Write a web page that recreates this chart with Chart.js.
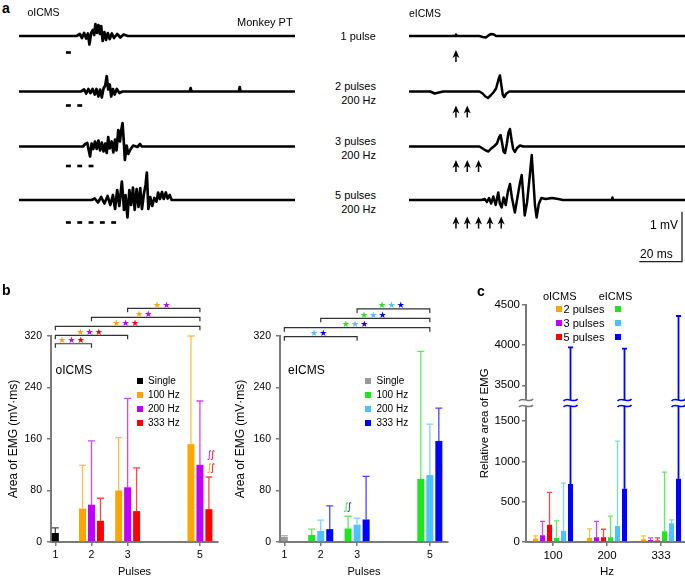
<!DOCTYPE html>
<html>
<head>
<meta charset="utf-8">
<script src="https://cdn.jsdelivr.net/npm/chart.js@4.4.1/dist/chart.umd.min.js"></script>
<style>
  html, body { margin: 0; padding: 0; background: #fff; }
  body { width: 685px; height: 576px; overflow: hidden; position: relative;
         font-family: "Liberation Sans", Arial, sans-serif; color: #000; }
  canvas { position: absolute; }
  .t { position: absolute; white-space: nowrap; line-height: 1; }
  .sq { position: absolute; width: 6px; height: 6px; }
</style>
</head>
<body>
<script>
/* ---------- panel a : EMG traces (t in ms from first pulse, mV) ---------- */
var pulseCounts = [1, 2, 3, 5];
var pulseTimes = [0, 5.3, 10.6, 15.9, 21.2];

var oTrace1 = [[-22,0],[5,0],[6.5,0.04],[7.5,-0.04],[8.5,0.06],[9.5,-0.05],[10.3,0.05],[11,-0.17],[11.8,0.06],[12.6,0.12],[13.2,0.02],[13.8,0.24],[14.5,0.06],[15.2,0.22],[15.9,0.04],[16.5,0.2],[17.2,-0.1],[18,0.08],[18.8,-0.08],[19.6,0.06],[20.5,-0.06],[21.5,0.05],[22.5,-0.04],[24,0.04],[25.5,-0.03],[27,0.03],[29,0],[107.3,0]];
var oTrace2 = [[-22,0],[7,0],[8.5,0.04],[9.5,-0.04],[10.5,0.05],[11.5,-0.03],[12.5,0.05],[13.5,-0.06],[14.3,0.05],[15.2,-0.1],[16,0.04],[16.8,-0.12],[17.6,0.06],[18.4,0.12],[19.1,0.31],[19.8,0.04],[20.5,0.14],[21.2,-0.1],[22,0.05],[22.8,-0.06],[23.8,0.05],[25,-0.03],[26.5,0],[58,0],[58.4,0.07],[58.8,0],[81,0],[81.4,0.09],[81.8,0],[107.3,0]];
var oTrace3 = [[-22,0],[8,0],[9,0.05],[10,0.07],[10.6,-0.06],[11.3,-0.2],[12,0.06],[12.8,-0.05],[13.6,0.1],[14.4,-0.05],[15.2,0.12],[16,-0.08],[16.8,0.08],[17.6,-0.1],[18.4,0.06],[19.1,-0.13],[19.8,0.19],[20.5,-0.04],[21.4,0.1],[22.2,-0.12],[23,0.14],[23.7,-0.08],[24.5,0.33],[25.3,0.1],[25.8,0.3],[26.5,0.47],[27.1,0.1],[27.6,-0.27],[28.4,0.02],[29.2,-0.15],[30.2,-0.06],[31.5,0.02],[33.5,-0.01],[34.7,0.05],[35.5,0],[107.3,0]];
var oTrace4 = [[-22,0],[12,0],[13.5,0.03],[15,-0.05],[16.5,0.06],[18,-0.07],[19.5,0.08],[20.8,-0.1],[22,0.1],[23,-0.18],[24,0.2],[25,-0.12],[26.2,0.37],[27.2,-0.2],[27.9,0.1],[28.8,-0.35],[29.7,0.2],[30.5,-0.1],[31.4,0.25],[32.2,-0.2],[33.1,0.22],[34,-0.14],[34.8,0.24],[35.6,-0.18],[36.5,0.12],[37.3,0.3],[37.9,0.55],[38.6,-0.18],[39.5,0.06],[40.4,-0.12],[41.4,0.04],[42.4,-0.03],[43.2,0.15],[44,0.02],[45,0.16],[45.8,0.02],[46.8,0.15],[47.6,0.03],[48.6,0.1],[49.5,0],[107.3,0]];

var eTrace1 = [[-22,0],[-0.3,0],[0,0.03],[0.3,0],[11,0],[12.5,-0.02],[14,-0.03],[15.5,0.02],[16.5,0.04],[17.8,0.03],[18.8,0],[107.3,0]];
var eTrace2 = [[-22,0],[-12,0],[-10,-0.04],[-8,-0.02],[-6,0],[11,0],[12.5,-0.04],[13.8,-0.1],[15,-0.13],[16.2,-0.08],[17.5,-0.02],[18.8,0.06],[19.8,0.22],[20.6,0.32],[21.3,0.12],[21.9,-0.06],[22.6,-0.11],[23.6,-0.04],[25,0],[107.3,0]];
var eTrace3 = [[-22,0],[11,0],[12.5,-0.04],[14,-0.08],[15.2,-0.1],[16.5,-0.04],[18,0.01],[19.2,0.06],[20.2,0.18],[20.9,0.23],[21.7,0.05],[22.3,-0.1],[23,-0.13],[23.8,0.05],[24.6,0.28],[25.3,0.35],[26.1,0.12],[26.8,-0.05],[27.6,-0.11],[28.6,-0.03],[30,0.02],[31.5,0],[107.3,0]];
var eTrace4 = [[-22,0],[12,0],[13.5,0.02],[14.5,-0.04],[15.5,0.04],[16.5,-0.07],[17.5,0.07],[18.6,-0.1],[19.8,0.15],[20.6,-0.08],[21.4,-0.15],[22.3,0.05],[23.3,-0.1],[24.4,0.18],[25.3,0.32],[26.2,0.05],[27.6,-0.25],[28.7,0.02],[29.8,0.3],[30.8,0.5],[31.5,0.12],[32.2,-0.31],[33.3,-0.05],[34.5,0.45],[35.5,0.9],[36.4,0.3],[37,-0.1],[37.8,-0.35],[38.8,-0.08],[40,0.04],[42,0.02],[45,0.04],[48,0.02],[50,0],[73,0],[73.3,0.05],[73.6,0],[107.3,0]];

/* ---------- panel b : area of EMG (mV·ms) ---------- */
var pulses = [1, 2, 3, 5];
var bSeries = ["Single", "100 Hz", "200 Hz", "333 Hz"];

var oSingle = [14, null, null, null];
var o100 = [null, 52, 80, 152];
var o200 = [null, 58, 85, 120];
var o333 = [null, 33, 48, 51];
var oSingleTop = [22, null, null, null];
var o100Top = [null, 119, 162, 320];
var o200Top = [null, 157, 223, 219];
var o333Top = [null, 68, 115, 101];

var eSingle = [8, null, null, null];
var e100 = [null, 11, 21, 98];
var e200 = [null, 17, 27, 104];
var e333 = [null, 20, 35, 157];
var eSingleTop = [10, null, null, null];
var e100Top = [null, 20, 40, 296];
var e200Top = [null, 34, 37, 183];
var e333Top = [null, 56, 102, 208];

// significance: [from pulses, to pulses, bracket level, series that are significant]
var oSig = [[1, 2, 308, [1, 2, 3]], [1, 3, 321, [1, 2, 3]], [1, 5, 335, [1, 2, 3]], [2, 5, 349, [1, 2]], [3, 5, 363, [1, 2]]];
var eSig = [[1, 3, 319, [2, 3]], [1, 5, 333, [1, 2, 3]], [2, 5, 347.5, [1, 2, 3]], [3, 5, 362, [1, 2, 3]]];
// frequency-difference marks: [x, y, series pair]
var oMarks = [[5.26, 134, [2, 3]], [5.26, 115, [1, 3]]];
var eMarks = [[2.7, 53, [1, 3]]];

/* ---------- panel c : relative area of EMG ---------- */
var hz = ["100", "200", "333"];
var cSeries = ["2 pulses", "3 pulses", "5 pulses"];
var cO2 = [42, 50, 33],   cO2Top = [75, 162, 75];
var cO3 = [84, 58, 25],   cO3Top = [255, 255, 50];
var cO5 = [215, 58, 20],  cO5Top = [615, 158, 50];
var cE2 = [50, 58, 133],  cE2Top = [263, 322, 866];
var cE3 = [136, 200, 234], cE3Top = [731, 1253, 275];
var cE5 = [721, 660, 785], cE5Top = [3970, 3955, 4360];
var cTicks = [0, 500, 1000, 1500, 3500, 4000, 4500];

/* ---------- colours ---------- */
var oColors = ["#000000", "#ffa500", "#bf00ff", "#ff0000"];
var eColors = ["#9a9a9a", "#1ee61e", "#4cc3ff", "#0000ff"];
var axisGrey = "#7a7a7a";

Chart.defaults.font.family = '"Liberation Sans", Arial, sans-serif';
Chart.defaults.color = "#000";

function fade(hex, a) {
    var n = parseInt(hex.slice(1), 16);
    return "rgba(" + (n >> 16) + "," + ((n >> 8) & 255) + "," + (n & 255) + "," + a + ")";
}

function makeCanvas(left, top, w, h) {
    var c = document.createElement("canvas");
    c.width = w; c.height = h;
    c.style.left = left + "px"; c.style.top = top + "px";
    c.style.width = w + "px"; c.style.height = h + "px";
    document.body.appendChild(c);
    return c;
}

function text(str, x, y, opt) {
    opt = opt || {};
    var d = document.createElement("div");
    d.className = "t";
    d.textContent = str;
    d.style.left = x + "px"; d.style.top = y + "px";
    d.style.fontSize = (opt.size || 11) + "px";
    if (opt.bold) d.style.fontWeight = "bold";
    var ax = opt.align === "right" ? "-100%" : opt.align === "center" ? "-50%" : "0";
    d.style.transform = "translate(" + ax + ",-50%)";
    document.body.appendChild(d);
}

function square(x, cy, color) {
    var d = document.createElement("div");
    d.className = "sq";
    d.style.left = x + "px"; d.style.top = (cy - 3) + "px";
    d.style.background = color;
    document.body.appendChild(d);
}

/* ---------- plugins ---------- */
function drawArrow(ctx, x, y) {
    ctx.beginPath();
    ctx.moveTo(x, y);
    ctx.lineTo(x + 3.5, y + 8);
    ctx.lineTo(x, y + 5.8);
    ctx.lineTo(x - 3.5, y + 8);
    ctx.closePath();
    ctx.fill();
    ctx.fillRect(x - 0.75, y + 4, 1.5, 8);
}

var pulsePlugin = {
    id: "pulses",
    afterDatasetsDraw: function (chart, args, opts) {
        var ctx = chart.ctx, x = chart.scales.x, y = chart.scales.y;
        ctx.save();
        ctx.fillStyle = "#000";
        opts.rows.forEach(function (level, k) {
            var yy = y.getPixelForValue(level);
            for (var i = 0; i < pulseCounts[k]; i++) {
                var x0 = x.getPixelForValue(pulseTimes[i]);
                if (opts.kind === "dash") {
                    ctx.fillRect(x0, yy - 1.3, x.getPixelForValue(pulseTimes[i] + 2.3) - x0, 2.6);
                } else {
                    drawArrow(ctx, x0, yy);
                }
            }
        });
        if (opts.scaleBar) {
            var sb = opts.scaleBar;
            var xr = x.getPixelForValue(sb.t), xl = x.getPixelForValue(sb.t - sb.ms);
            var yb = y.getPixelForValue(sb.v), yt = y.getPixelForValue(sb.v + sb.mv);
            ctx.strokeStyle = "#222";
            ctx.lineWidth = 1.3;
            ctx.beginPath();
            ctx.moveTo(xr, yt); ctx.lineTo(xr, yb); ctx.lineTo(xl, yb);
            ctx.stroke();
        }
        ctx.restore();
    }
};

var errorBarPlugin = {
    id: "errorBars",
    afterDatasetsDraw: function (chart) {
        var ctx = chart.ctx, yScale = chart.scales.y;
        chart.data.datasets.forEach(function (ds, di) {
            if (!ds.errTop) return;
            chart.getDatasetMeta(di).data.forEach(function (bar, i) {
                var top = ds.errTop[i];
                if (top === null || top === undefined) return;
                var yTop = yScale.getPixelForValue(top);
                ctx.save();
                ctx.strokeStyle = ds.errColor;
                ctx.lineWidth = ds.errWidth || 1.3;
                ctx.beginPath();
                ctx.moveTo(bar.x, bar.y);
                ctx.lineTo(bar.x, yTop);
                ctx.moveTo(bar.x - bar.width / 2, yTop);
                ctx.lineTo(bar.x + bar.width / 2, yTop);
                ctx.stroke();
                ctx.restore();
            });
        });
    }
};

var sigPlugin = {
    id: "sig",
    afterDatasetsDraw: function (chart, args, opts) {
        if (!opts.brackets) return;
        var ctx = chart.ctx, x = chart.scales.x, y = chart.scales.y;
        ctx.save();
        opts.brackets.forEach(function (b) {
            var x0 = x.getPixelForValue(b[0]), x1 = x.getPixelForValue(b[1]), yy = y.getPixelForValue(b[2]);
            ctx.strokeStyle = "#333";
            ctx.lineWidth = 1.2;
            ctx.beginPath();
            ctx.moveTo(x0, yy + 4); ctx.lineTo(x0, yy); ctx.lineTo(x1, yy); ctx.lineTo(x1, yy + 4);
            ctx.stroke();
            ctx.font = '9px "DejaVu Sans"';
            ctx.textAlign = "center";
            ctx.textBaseline = "alphabetic";
            var mid = (x0 + x1) / 2 - 2;
            b[3].forEach(function (s, j) {
                ctx.fillStyle = opts.colors[s];
                ctx.fillText("\u2605", mid + (j - (b[3].length - 1) / 2) * 9.3, yy - 0.5);
            });
        });
        ctx.font = 'italic 10px "DejaVu Sans"';
        ctx.textBaseline = "middle";
        opts.marks.forEach(function (m) {
            var xx = x.getPixelForValue(m[0]), yy = y.getPixelForValue(m[1]);
            m[2].forEach(function (s, j) {
                ctx.fillStyle = opts.colors[s];
                ctx.fillText("\u222B", xx + j * 3.2, yy);
            });
        });
        ctx.restore();
    }
};

function drawBreak(ctx, x, y, color) {
    ctx.save();
    ctx.fillStyle = "#fff";
    ctx.fillRect(x - 3, y - 3, 6, 6);
    ctx.strokeStyle = color;
    ctx.lineWidth = 1.6;
    [-3, 3].forEach(function (dy) {
        ctx.beginPath();
        ctx.moveTo(x - 7, y + dy + 1);
        ctx.bezierCurveTo(x - 3, y + dy - 4, x + 3, y + dy + 4, x + 7, y + dy - 1);
        ctx.stroke();
    });
    ctx.restore();
}

var breakPlugin = {
    id: "axisBreak",
    afterDraw: function (chart, args, opts) {
        var ctx = chart.ctx, y = chart.scales.y;
        var yy = y.getPixelForValue(opts.at);
        drawBreak(ctx, chart.chartArea.left, yy, axisGrey);
        chart.data.datasets.forEach(function (ds, di) {
            chart.getDatasetMeta(di).data.forEach(function (bar, i) {
                if (ds.errTop[i] > opts.at) drawBreak(ctx, bar.x, yy, ds.backgroundColor);
            });
        });
    }
};

/* ---------- panel a charts ---------- */
var traceBase = [0, -1.11, -2.21, -3.28];
var tMin = -22, tMax = 107.3, vMax = 0.72, vMin = 0.72 - 270 / 50;

function traceChart(canvas, traces, lineWidth, pulseOpts) {
    return new Chart(canvas, {
        type: "scatter",
        data: {
            datasets: traces.map(function (tr, k) {
                return {
                    data: tr.map(function (p) { return {x: p[0], y: p[1] + traceBase[k]}; }),
                    showLine: true, borderColor: "#000", borderWidth: lineWidth,
                    pointRadius: 0, tension: 0, clip: false, borderJoinStyle: "round"
                };
            })
        },
        options: {
            responsive: false, devicePixelRatio: 1, animation: false,
            layout: {padding: 0},
            scales: {
                x: {display: false, min: tMin, max: tMax},
                y: {display: false, min: vMin, max: vMax}
            },
            plugins: {legend: {display: false}, tooltip: {enabled: false}, pulses: pulseOpts}
        },
        plugins: [pulsePlugin]
    });
}

traceChart(makeCanvas(19, 0, 276, 270), [oTrace1, oTrace2, oTrace3, oTrace4], 2.7,
    {kind: "dash", rows: [-0.33, -1.39, -2.6, -3.73]});
traceChart(makeCanvas(409, 0, 276, 270), [eTrace1, eTrace2, eTrace3, eTrace4], 2.5,
    {kind: "arrow", rows: [-0.28, -1.39, -2.48, -3.61],
     scaleBar: {t: 105.9, ms: 20, v: -4.514, mv: 1}});

text("a", 2, 8, {bold: true, size: 14});
text("oICMS", 27.5, 12, {size: 10.5});
text("Monkey PT", 237, 22, {size: 11});
text("eICMS", 409, 12.5, {size: 10.5});
text("1 pulse", 376, 36, {align: "right"});
[[86, 100], [141, 155], [195, 209]].forEach(function (r, i) {
    text(pulseCounts[i + 1] + " pulses", 376, r[0], {align: "right"});
    text("200 Hz", 376, r[1], {align: "right"});
});
text("1 mV", 678, 225, {align: "right", size: 12});
text("20 ms", 640, 253.5, {size: 12});

/* ---------- panel b charts ---------- */
function axisCommon(extra) {
    var base = {
        border: {color: axisGrey, width: 2},
        grid: {drawOnChartArea: false, color: axisGrey, tickColor: axisGrey, tickLength: 4, lineWidth: 1.5, offset: false}
    };
    return Object.assign(base, extra);
}

function pulseChart(canvas, colors, values, tops, sig, marks, yWidth, yTitlePad) {
    var datasets = bSeries.map(function (name, s) {
        return {
            label: name,
            data: pulses.map(function (p, i) { return {x: p, y: values[s][i]}; }),
            backgroundColor: colors[s],
            errTop: tops[s],
            errColor: fade(colors[s], 0.72),
            categoryPercentage: 0.744, barPercentage: 0.78, maxBarThickness: 7, skipNull: true
        };
    });
    return new Chart(canvas, {
        type: "bar",
        data: {datasets: datasets},
        options: {
            responsive: false, devicePixelRatio: 1, animation: false,
            layout: {padding: {top: 56, right: 12, left: 0, bottom: 0}},
            scales: {
                x: axisCommon({
                    type: "linear", min: 0.88, max: 5.5, offset: false,
                    afterBuildTicks: function (sc) { sc.ticks = pulses.map(function (v) { return {value: v}; }); },
                    afterFit: function (sc) { sc.height = 38; },
                    ticks: {font: {size: 10.5}, padding: 3, callback: function (v) { return v; }},
                    title: {display: true, text: "Pulses", font: {size: 11}, padding: {top: 0, bottom: 1.4}}
                }),
                y: axisCommon({
                    min: 0, max: 320,
                    afterFit: function (sc) { sc.width = yWidth; },
                    ticks: {stepSize: 80, font: {size: 10.5}, padding: 5},
                    title: {display: true, text: "Area of EMG (mV\u00B7ms)", font: {size: 12}, padding: {top: yTitlePad, bottom: 0}}
                })
            },
            plugins: {
                legend: {display: false}, tooltip: {enabled: false},
                sig: {brackets: sig, marks: marks, colors: colors}
            }
        },
        plugins: [errorBarPlugin, sigPlugin]
    });
}

pulseChart(makeCanvas(0, 280, 230, 300), oColors,
    [oSingle, o100, o200, o333], [oSingleTop, o100Top, o200Top, o333Top], oSig, oMarks, 51, 6.5);
pulseChart(makeCanvas(230, 280, 230, 300), eColors,
    [eSingle, e100, e200, e333], [eSingleTop, e100Top, e200Top, e333Top], eSig, eMarks, 50, 3.6);

text("b", 2, 290, {bold: true, size: 14});
text("oICMS", 55.5, 370, {size: 12});
text("eICMS", 288, 370, {size: 12});
bSeries.forEach(function (name, s) {
    var cy = 381 + s * 13.9;
    square(137, cy, oColors[s]);
    text(name, 148, cy, {size: 10});
    square(365, cy, eColors[s]);
    text(name, 376.5, cy, {size: 10});
});

/* ---------- panel c chart (broken y axis) ---------- */
var GAP = 1555, BREAK_AT = 1725;
function toAxis(v) { return v > 1750 ? v - GAP : v; }
function fromAxis(v) { return v > BREAK_AT ? v + GAP : v; }

var cColors = oColors.slice(1).concat(eColors.slice(1));
var cValues = [cO2, cO3, cO5, cE2, cE3, cE5];
var cTops = [cO2Top, cO3Top, cO5Top, cE2Top, cE3Top, cE5Top];

new Chart(makeCanvas(470, 280, 218, 300), {
    type: "bar",
    data: {
        labels: hz,
        datasets: cValues.map(function (vals, s) {
            return {
                label: cSeries[s % 3],
                data: vals.map(toAxis),
                backgroundColor: cColors[s],
                errTop: cTops[s].map(toAxis),
                errColor: s === 5 ? cColors[s] : fade(cColors[s], 0.72),
                errWidth: s === 5 ? 1.8 : 1.3,
                categoryPercentage: 0.778, barPercentage: 0.714
            };
        })
    },
    options: {
        responsive: false, devicePixelRatio: 1, animation: false,
        layout: {padding: {top: 24.7, right: 0, left: 0, bottom: 0}},
        scales: {
            x: axisCommon({
                afterFit: function (sc) { sc.height = 38; },
                ticks: {font: {size: 11.5}, padding: 3},
                title: {display: true, text: "Hz", font: {size: 11.5}, padding: {top: 0, bottom: 1}}
            }),
            y: axisCommon({
                min: 0, max: toAxis(4500),
                afterBuildTicks: function (sc) { sc.ticks = cTicks.map(function (v) { return {value: toAxis(v)}; }); },
                afterFit: function (sc) { sc.width = 56; },
                ticks: {font: {size: 11.5}, padding: 2, callback: function (v) { return String(fromAxis(v)); }},
                title: {display: true, text: "Relative area of EMG", font: {size: 11.5}, padding: {top: 8, bottom: 0}}
            })
        },
        plugins: {legend: {display: false}, tooltip: {enabled: false}, axisBreak: {at: BREAK_AT}}
    },
    plugins: [errorBarPlugin, breakPlugin]
});

text("c", 477, 291, {bold: true, size: 14});
text("oICMS", 559.7, 296, {align: "center", size: 11});
text("eICMS", 615.5, 296, {align: "center", size: 11});
cSeries.forEach(function (name, s) {
    var cy = 308.5 + s * 14.2;
    square(556, cy, cColors[s]);
    text(name, 563.5, cy, {size: 11});
    square(615, cy, cColors[s + 3]);
});
</script>
</body>
</html>
